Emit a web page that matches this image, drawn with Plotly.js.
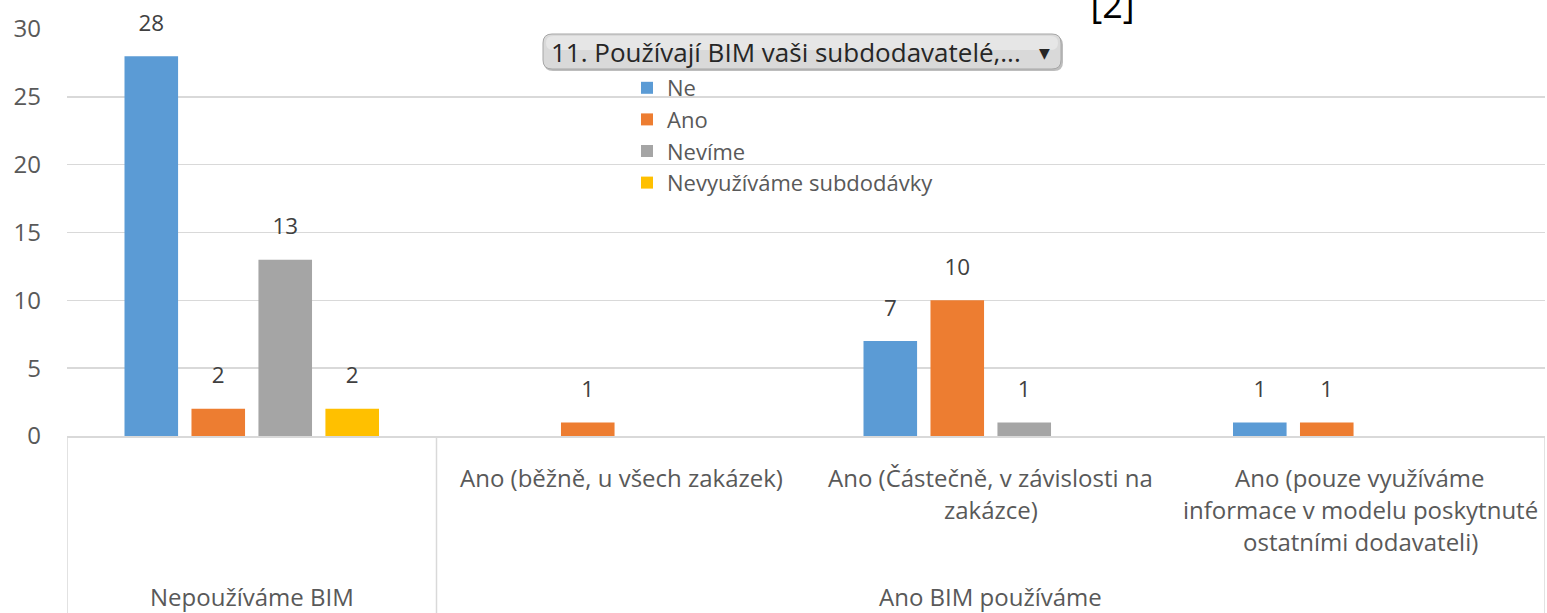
<!DOCTYPE html>
<html>
<head>
<meta charset="utf-8">
<script src="https://cdn.plot.ly/plotly-3.0.1.min.js"></script>
<style>html,body{margin:0;padding:0;background:#fff;}#chart{width:1547px;height:613px;}</style>
</head>
<body>
<div id="chart"></div>
<script>
// ---- data ----
const groups = ["Nepoužíváme BIM", "Ano BIM používáme", "Ano BIM používáme", "Ano BIM používáme"];
const subcategories = ["", "Ano (běžně, u všech zakázek)", "Ano (Částečně, v závislosti na zakázce)", "Ano (pouze využíváme informace v modelu poskytnuté ostatními dodavateli)"];
const subcategoryLines = [[], ["Ano (běžně, u všech zakázek)"], ["Ano (Částečně, v závislosti na", "zakázce)"], ["Ano (pouze využíváme", "informace v modelu poskytnuté", "ostatními dodavateli)"]];
const seriesNames = ["Ne", "Ano", "Nevíme", "Nevyužíváme subdodávky"];
const valuesNe = [28, null, 7, 1];
const valuesAno = [2, 1, 10, 1];
const valuesNevime = [13, null, 1, null];
const valuesNevyuzivame = [2, null, null, null];
const yTicks = [0, 5, 10, 15, 20, 25, 30];
const fieldButtonText = "11. Používají BIM vaši subdodavatelé,...";
const noteText = "[2]";

// ---- layout helpers ----
const W = 1547, H = 613, ML = 67, MR = 2, MT = 29, MB = 177;
const PW = W - ML - MR, PH = H - MT - MB;
const px2x = p => (p - ML) / PW;
const px2y = p => (H - MB - p) / PH;
const FONT = "'Open Sans', 'Noto Sans', sans-serif";

const xKeys = groups.map((g, i) => g + " / " + (subcategories[i] || "-"));
const colors = ["#5B9BD5", "#ED7D31", "#A5A5A5", "#FFC000"];
const allValues = [valuesNe, valuesAno, valuesNevime, valuesNevyuzivame];

const traces = allValues.map((vals, k) => ({
  type: "bar",
  name: seriesNames[k],
  x: xKeys,
  y: vals,
  marker: { color: colors[k], line: { width: 0 } },
  texttemplate: "\u00a0<sup>%{y}</sup>\u00a0",
  textposition: "outside",
  constraintext: "none",
  cliponaxis: false,
  textfont: { family: FONT, size: 32, color: "#404040" },
  hoverinfo: "skip"
}));

const annotations = [];
// subcategory labels
subcategoryLines.forEach((lines, i) => {
  lines.forEach((ln, j) => {
    annotations.push({
      xref: "x", yref: "paper", x: xKeys[i], y: 0,
      yanchor: "middle", xanchor: "center",
      yshift: -(477 + 32 * j - (H - MB)),
      text: ln, showarrow: false,
      font: { family: FONT, size: 24, color: "#595959" }
    });
  });
});
// group labels
const uniqueGroups = [...new Set(groups)];
uniqueGroups.forEach(g => {
  const idx = groups.map((v, i) => v === g ? i : -1).filter(i => i >= 0);
  const mid = (idx[0] + idx[idx.length - 1]) / 2;
  annotations.push({
    xref: "x", yref: "paper", x: mid, y: 0,
    yanchor: "middle", xanchor: "center",
    yshift: -(596 - (H - MB)),
    text: g, showarrow: false,
    font: { family: FONT, size: 24, color: "#595959" }
  });
});
// field button text
annotations.push({
  xref: "paper", yref: "paper", x: px2x(549), y: px2y(52),
  xanchor: "left", yanchor: "middle", text: fieldButtonText, showarrow: false,
  font: { family: FONT, size: 26, color: "#262626" }
});
annotations.push({
  xref: "paper", yref: "paper", x: px2x(1044), y: px2y(53),
  xanchor: "center", yanchor: "middle", text: "▼", showarrow: false,
  font: { family: "DejaVu Sans", size: 14, color: "#262626" }
});
// note "[2]"
annotations.push({
  xref: "paper", yref: "paper", x: px2x(1112), y: px2y(5),
  xanchor: "center", yanchor: "middle",
  text: noteText, showarrow: false, bgcolor: "#ffffff", width: 69, borderpad: 2,
  font: { family: FONT, size: 36, color: "#000000" }
});

// rounded button path in paper coords
function roundedRect(x0, y0, x1, y1, r) {
  const X = px2x, Y = px2y;
  return `M${X(x0 + r)},${Y(y0)} L${X(x1 - r)},${Y(y0)} Q${X(x1)},${Y(y0)} ${X(x1)},${Y(y0 + r)} ` +
    `L${X(x1)},${Y(y1 - r)} Q${X(x1)},${Y(y1)} ${X(x1 - r)},${Y(y1)} L${X(x0 + r)},${Y(y1)} ` +
    `Q${X(x0)},${Y(y1)} ${X(x0)},${Y(y1 - r)} L${X(x0)},${Y(y0 + r)} Q${X(x0)},${Y(y0)} ${X(x0 + r)},${Y(y0)} Z`;
}

const shapes = [
  { type: "path", xref: "paper", yref: "paper", path: roundedRect(544, 36, 1063, 71, 9),
    fillcolor: "#bdbdbd", line: { width: 0 }, layer: "above" },
  { type: "path", xref: "paper", yref: "paper", path: roundedRect(543, 34, 1061, 69, 9),
    fillcolor: "#d9d9d9", line: { color: "#a6a6a6", width: 1 }, layer: "above" },
  { type: "path", xref: "paper", yref: "paper", path: roundedRect(546, 36, 1058, 50, 7),
    fillcolor: "#e6e6e6", line: { width: 0 }, layer: "above" },
  // category dividers
  { type: "line", xref: "x", yref: "paper", x0: -0.5, x1: -0.5, y0: 0, y1: -MB / PH,
    line: { color: "#d9d9d9", width: 1.5 } },
  { type: "line", xref: "x", yref: "paper", x0: 0.5, x1: 0.5, y0: 0, y1: -MB / PH,
    line: { color: "#d9d9d9", width: 1.5 } },
  { type: "line", xref: "x", yref: "paper", x0: 3.5, x1: 3.5, y0: 0, y1: -MB / PH,
    line: { color: "#d9d9d9", width: 1.5 } }
];

const layout = {
  width: W, height: H,
  margin: { l: ML, r: MR, t: MT, b: MB, pad: 0 },
  paper_bgcolor: "#ffffff", plot_bgcolor: "#ffffff",
  barmode: "group", bargap: 0.275, bargroupgap: 0.2,
  font: { family: FONT, color: "#595959" },
  showlegend: true,
  legend: {
    x: px2x(627), y: px2y(67), xanchor: "left", yanchor: "top",
    bgcolor: "rgba(0,0,0,0)", borderwidth: 0, traceorder: "normal",
    font: { family: FONT, size: 22, color: "#595959" }
  },
  xaxis: {
    type: "category", range: [-0.5, 3.5], showticklabels: false, ticks: "",
    showgrid: false, zeroline: false, showline: true, linecolor: "#d9d9d9", linewidth: 1.5,
    fixedrange: true
  },
  yaxis: {
    range: [0, 30], tickvals: yTicks, ticks: "", showline: false, zeroline: false,
    gridcolor: "#d9d9d9", gridwidth: 1.5, ticklabelstandoff: 25,
    tickfont: { family: FONT, size: 24, color: "#595959" }, fixedrange: true
  },
  annotations: annotations,
  shapes: shapes
};

Plotly.newPlot("chart", traces, layout, { displayModeBar: false, staticPlot: true });
</script>
</body>
</html>
